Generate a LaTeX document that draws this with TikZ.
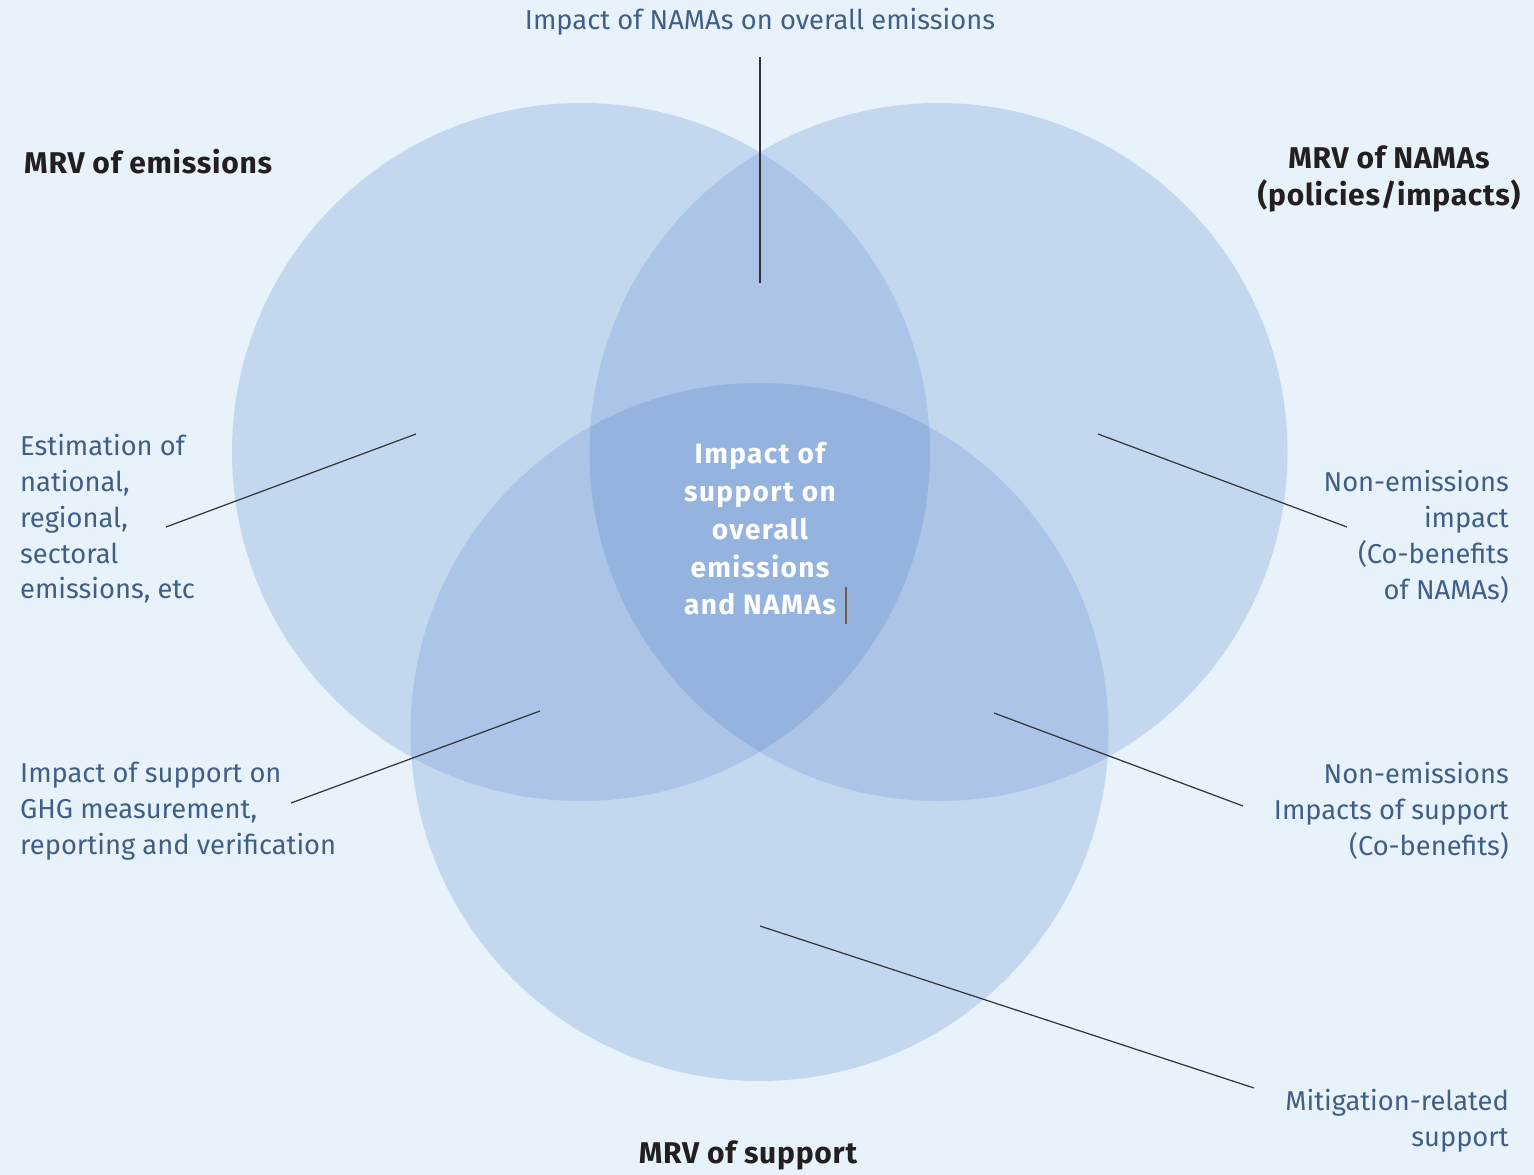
\documentclass[tikz,border=0pt]{standalone}
\usepackage{fontspec}
\setmainfont{Fira Sans}
\newfontfamily\headfont[LetterSpace=2.5]{Fira Sans}
\newfontfamily\ctrfont[LetterSpace=5]{Fira Sans}
\definecolor{bgc}{HTML}{E8F2FB}
\definecolor{cone}{HTML}{C3D8EF}
\definecolor{ctwo}{HTML}{ABC4E8}
\definecolor{cthree}{HTML}{94B4DF}
\definecolor{labc}{HTML}{3F5F86}
\definecolor{headc}{HTML}{231F20}
\definecolor{linec}{HTML}{333333}
\begin{document}
\begin{tikzpicture}[x=1pt,y=-1pt,
  lab/.style={text=labc,inner sep=0pt,font=\fontsize{27.3}{35.8}\selectfont},
  head/.style={text=headc,inner sep=0pt,font=\headfont\fontsize{30}{37}\selectfont\bfseries},
  ctr/.style={text=white,inner sep=0pt,align=center,font=\ctrfont\fontsize{28}{37.7}\selectfont\bfseries},
  conn/.style={draw=linec,line width=1.2pt}]
\useasboundingbox[fill=bgc] (0,0) rectangle (1534,1175);
\coordinate (A) at (581,452);
\coordinate (B) at (938.5,452);
\coordinate (C) at (759.5,732);
\fill[cone] (A) circle[radius=349pt];
\fill[cone] (B) circle[radius=349pt];
\fill[cone] (C) circle[radius=349pt];
\begin{scope}
  \clip (A) circle[radius=349pt];
  \fill[ctwo] (B) circle[radius=349pt];
  \fill[ctwo] (C) circle[radius=349pt];
\end{scope}
\begin{scope}
  \clip (B) circle[radius=349pt];
  \fill[ctwo] (C) circle[radius=349pt];
\end{scope}
\begin{scope}
  \clip (A) circle[radius=349pt];
  \clip (B) circle[radius=349pt];
  \fill[cthree] (C) circle[radius=349pt];
\end{scope}

% labels
\node[lab,anchor=center] (top) at (760,22) {Impact of NAMAs on overall emissions};
\node[head,anchor=west] (memi) at (24,162) {MRV of emissions};
\node[head,align=center] (mnama) at (1389,179) {MRV of NAMAs\\(policies/impacts)};
\node[lab,align=left,anchor=west] (est) at (20,519) {Estimation of\\national,\\regional,\\sectoral\\emissions, etc};
\node[lab,align=right,anchor=east] (nonimp) at (1509,537) {Non-emissions\\impact\\(Co-benefits\\of NAMAs)};
\node[ctr] (center) at (760,529) {Impact of\\support on\\overall\\emissions\\and NAMAs};
\node[lab,align=left,anchor=west] (ghg) at (20,811) {Impact of support on\\GHG measurement,\\reporting and verification};
\node[lab,align=right,anchor=east] (nonsup) at (1509,811) {Non-emissions\\Impacts of support\\(Co-benefits)};
\node[lab,align=right,anchor=east] (mit) at (1509,1121) {Mitigation-related\\support};
\node[head] (msup) at (748,1155) {MRV of support};

% connectors
\coordinate (t1) at (760,57);   \coordinate (t2) at (760,283);
\coordinate (e1) at (166,527);  \coordinate (e2) at (416,434);
\coordinate (n1) at (1347,527); \coordinate (n2) at (1098,434);
\coordinate (g1) at (291,803);  \coordinate (g2) at (540,711);
\coordinate (s1) at (1243,806); \coordinate (s2) at (994,713);
\coordinate (m1) at (1254,1088);\coordinate (m2) at (760,926);
\draw[conn] (t1) -- (t2);
\draw[conn] (e1) -- (e2);
\draw[conn] (n1) -- (n2);
\draw[conn] (g1) -- (g2);
\draw[conn] (s1) -- (s2);
\draw[conn] (m1) -- (m2);
% small cursor mark
\coordinate (k1) at (846,587); \coordinate (k2) at (846,624);
\draw[draw={rgb,255:red,120;green,90;blue,60},line width=1.5pt] (k1) -- (k2);
\end{tikzpicture}
\end{document}
